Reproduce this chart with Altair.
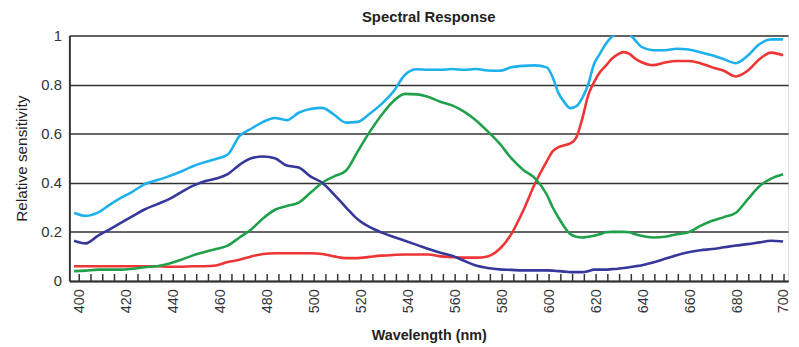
import altair as alt
import pandas as pd

# Wavelength sample points (nm)
wavelength = [397.8, 402.8, 407.9, 412.9, 417.9, 422.9, 428.0, 433.0, 438.0, 443.1,
              448.1, 453.1, 458.2, 463.2, 468.2, 473.2, 478.3, 483.3, 488.3, 493.4,
              498.4, 503.4, 508.5, 513.5, 518.5, 523.5, 528.6, 533.6, 538.6, 543.7,
              548.7, 553.7, 558.7, 563.8, 568.8, 573.8, 578.9, 583.9, 588.9, 593.9,
              599.0,
              601.5, 604.0, 606.5, 609.0, 611.6, 614.1, 616.6, 619.1, 621.6, 624.1,
              626.7, 629.2, 631.7, 634.2, 636.7, 639.2,
              644.2, 649.3, 654.3, 659.3, 664.4, 669.4, 674.4, 679.5, 684.5, 689.5,
              694.5, 699.6]

cyan = [0.278, 0.265, 0.278, 0.310, 0.339, 0.365, 0.395, 0.410, 0.426, 0.445,
        0.466, 0.483, 0.497, 0.515, 0.590, 0.620, 0.648, 0.664, 0.655, 0.685,
        0.700, 0.705, 0.677, 0.645, 0.648, 0.680, 0.720, 0.770, 0.839, 0.862,
        0.860, 0.860, 0.863, 0.860, 0.863, 0.857, 0.856, 0.870, 0.876, 0.878,
        0.870,
        0.830, 0.765, 0.728, 0.704, 0.712, 0.745, 0.800, 0.883, 0.925, 0.965,
        0.995, 1.010, 1.020, 1.005, 0.980, 0.954,
        0.940, 0.940, 0.946, 0.943, 0.932, 0.919, 0.903, 0.887, 0.917, 0.964,
        0.984, 0.984]

navy = [0.164, 0.153, 0.184, 0.210, 0.238, 0.265, 0.292, 0.312, 0.332, 0.360,
        0.386, 0.405, 0.417, 0.435, 0.473, 0.500, 0.507, 0.500, 0.470, 0.462,
        0.426, 0.400, 0.352, 0.300, 0.251, 0.220, 0.198, 0.180, 0.164, 0.147,
        0.130, 0.115, 0.103, 0.082, 0.063, 0.053, 0.047, 0.045, 0.043, 0.043,
        0.043,
        0.042, 0.040, 0.038, 0.036, 0.036, 0.036, 0.040, 0.046, 0.046, 0.046,
        0.048, 0.050, 0.053, 0.056, 0.060, 0.063,
        0.075, 0.090, 0.105, 0.117, 0.125, 0.130, 0.137, 0.144, 0.150, 0.157,
        0.164, 0.161]

green = [0.040, 0.042, 0.046, 0.046, 0.046, 0.050, 0.056, 0.060, 0.070, 0.085,
         0.103, 0.117, 0.130, 0.144, 0.177, 0.210, 0.255, 0.290, 0.305, 0.319,
         0.359, 0.400, 0.426, 0.449, 0.527, 0.605, 0.675, 0.731, 0.762, 0.760,
         0.749, 0.730, 0.715, 0.690, 0.655, 0.610, 0.560, 0.500, 0.453, 0.419,
         0.352,
         0.300, 0.258, 0.220, 0.191, 0.180, 0.177, 0.180, 0.184, 0.190, 0.198,
         0.200, 0.200, 0.200, 0.198, 0.190, 0.184,
         0.177, 0.180, 0.190, 0.198, 0.224, 0.245, 0.260, 0.278, 0.332, 0.386,
         0.417, 0.435]

red = [0.060, 0.060, 0.060, 0.060, 0.060, 0.060, 0.060, 0.060, 0.058, 0.058,
       0.060, 0.060, 0.063, 0.077, 0.086, 0.100, 0.110, 0.113, 0.113, 0.113,
       0.113, 0.110, 0.100, 0.093, 0.093, 0.098, 0.103, 0.106, 0.108, 0.108,
       0.108, 0.100, 0.097, 0.095, 0.095, 0.100, 0.130, 0.191, 0.285, 0.395,
       0.487,
       0.528, 0.545, 0.553, 0.560, 0.585, 0.660, 0.755, 0.809, 0.850, 0.876,
       0.905, 0.923, 0.932, 0.925, 0.905, 0.892,
       0.879, 0.890, 0.896, 0.896, 0.887, 0.870, 0.856, 0.833, 0.856, 0.903,
       0.930, 0.919]

series_names = ["Red", "Green", "Blue", "Clear"]
series_colors = ["#ee3535", "#20a04a", "#36379a", "#1cb0ec"]
x_labels = list(range(400, 701, 20))
x_minor = list(range(400, 701, 5))
y_ticks = [0, 0.2, 0.4, 0.6, 0.8, 1]

rows = []
for name, vals in zip(series_names, [red, green, navy, cyan]):
    for w, v in zip(wavelength, vals):
        rows.append({"wavelength": w, "value": v, "series": name})
df = pd.DataFrame(rows)
tick_df = pd.DataFrame({"t": x_minor})

W, H = 726, 248
FONT = "Liberation Sans"
x_scale = alt.Scale(domain=[395.8, 701.7], nice=False, zero=False)
y_scale = alt.Scale(domain=[0, 1], nice=False, zero=True)

lines = alt.Chart(df).mark_line(strokeWidth=2.6, clip=True, interpolate="monotone").encode(
    x=alt.X("wavelength:Q", scale=x_scale,
            axis=alt.Axis(values=x_labels, labelAngle=270, title="Wavelength (nm)",
                          grid=False, ticks=False, tickSize=0, domain=True,
                          domainColor="#333", domainWidth=2,
                          labelFont=FONT, labelFontSize=14.5, labelColor="#333",
                          labelPadding=8, titleFont=FONT, titleFontSize=14.5,
                          titleFontWeight="bold", titleColor="#222", titlePadding=16,
                          labelFlush=False, labelOverlap=False)),
    y=alt.Y("value:Q", scale=y_scale,
            axis=alt.Axis(values=y_ticks, format="~g", title="Relative sensitivity",
                          grid=True, gridColor="#333", gridWidth=1.5, gridOpacity=1,
                          ticks=False, tickSize=0, domain=True, domainColor="#333",
                          domainWidth=2, labelFont=FONT, labelFontSize=15,
                          labelColor="#333", labelPadding=8, titleFont=FONT,
                          titleFontSize=15.5, titleFontWeight="normal",
                          titleColor="#222", titlePadding=11, labelFlush=False)),
    color=alt.Color("series:N", scale=alt.Scale(domain=series_names, range=series_colors),
                    legend=None),
    order=alt.Order("wavelength:Q"),
)

ticks = alt.Chart(tick_df).mark_rule(color="#333", strokeWidth=1.5).encode(
    x=alt.X("t:Q", scale=x_scale),
    y=alt.value(H),
    y2=alt.value(H - 7),
)

chart = alt.layer(ticks, lines).properties(
    width=W, height=H,
    title=alt.TitleParams("Spectral Response", font=FONT, fontSize=15,
                          fontWeight="bold", color="#222", anchor="middle", offset=4),
    autosize=alt.AutoSizeParams(type="none"),
    padding={"left": 62, "top": 26, "right": 3, "bottom": 64},
).configure_view(stroke="#333", strokeWidth=1.5).configure(background="white")

chart.save("out.html", embed_options={"renderer": "svg", "actions": False})
